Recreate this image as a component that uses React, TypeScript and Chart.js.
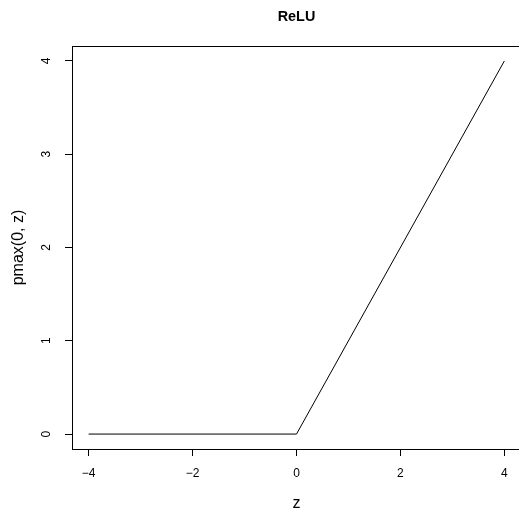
import React, { useEffect, useRef } from "react";
import { Chart, registerables } from "chart.js";

Chart.register(...registerables);

// ReLU curve: pmax(0, z) over z in [-4, 4]
const zValues = [-4, 0, 4];
const reluValues = [0, 0, 4];

const xTickValues = [-4, -2, 0, 2, 4];
const yTickValues = [0, 1, 2, 3, 4];

const titleText = "ReLU";
const xLabel = "z";
const yLabel = "pmax(0, z)";

const FONT = '"Liberation Sans", Arial, Helvetica, sans-serif';

const CANVAS_W = 530;
const CANVAS_H = 509;

// R-style frame, tick labels and annotations drawn on top of the chart
const baseGraphics = {
  id: "baseGraphics",
  afterDraw(chart: any) {
    const { ctx, chartArea, scales } = chart;
    const { left, right, top, bottom } = chartArea;
    ctx.save();
    ctx.strokeStyle = "#000";
    ctx.lineWidth = 1;
    ctx.strokeRect(Math.round(left) + 0.5, Math.round(top) + 0.5, Math.round(right - left), Math.round(bottom - top));

    ctx.fillStyle = "#000";
    // x tick labels
    ctx.font = `12px ${FONT}`;
    ctx.textAlign = "center";
    ctx.textBaseline = "middle";
    scales.x.ticks.forEach((t: any) => {
      const px = scales.x.getPixelForValue(t.value);
      ctx.fillText(String(t.value).replace("-", "\u2212"), px, bottom + 25);
    });
    // y tick labels, parallel to the axis
    scales.y.ticks.forEach((t: any) => {
      const py = scales.y.getPixelForValue(t.value);
      ctx.save();
      ctx.translate(left - 25, py);
      ctx.rotate(-Math.PI / 2);
      ctx.fillText(String(t.value), 0, 0);
      ctx.restore();
    });
    // axis titles
    const cx = (left + right) / 2;
    const cy = (top + bottom) / 2;
    ctx.font = `16px ${FONT}`;
    ctx.textBaseline = "alphabetic";
    ctx.fillText(xLabel, cx, bottom + 59);
    ctx.save();
    ctx.translate(23, cy);
    ctx.rotate(-Math.PI / 2);
    ctx.fillText(yLabel, 0, 0);
    ctx.restore();
    // main title
    ctx.font = `bold 14.4px ${FONT}`;
    ctx.textBaseline = "middle";
    ctx.fillText(titleText, cx, 17);
    ctx.restore();
  },
};

export default function App() {
  const canvasRef = useRef<HTMLCanvasElement | null>(null);

  useEffect(() => {
    document.documentElement.style.overflow = "hidden";
    document.body.style.overflow = "hidden";
    document.body.style.margin = "0";
    const canvas = canvasRef.current;
    if (!canvas) return;

    const tickGrid = {
      display: true,
      drawOnChartArea: false,
      drawTicks: true,
      tickLength: 7,
      color: "#000",
      lineWidth: 1,
    };

    const chart = new Chart(canvas, {
      type: "scatter",
      data: {
        datasets: [
          {
            data: zValues.map((z, i) => ({ x: z, y: reluValues[i] })),
            showLine: true,
            borderColor: "#000",
            borderWidth: 1,
            pointRadius: 0,
            pointHoverRadius: 0,
            fill: false,
            tension: 0,
          },
        ],
      },
      options: {
        animation: false,
        responsive: false,
        devicePixelRatio: 1,
        events: [],
        layout: { padding: { top: 46, right: CANVAS_W - 521, left: 0, bottom: 0 } },
        plugins: {
          legend: { display: false },
          tooltip: { enabled: false },
          title: { display: false },
        },
        scales: {
          x: {
            type: "linear",
            min: -4.32,
            max: 4.32,
            afterBuildTicks: (s: any) => {
              s.ticks = xTickValues.map((v) => ({ value: v }));
            },
            afterFit: (s: any) => {
              s.height = 60;
            },
            grid: tickGrid,
            border: { display: false },
            ticks: { display: false },
          },
          y: {
            type: "linear",
            min: -0.16,
            max: 4.16,
            afterBuildTicks: (s: any) => {
              s.ticks = yTickValues.map((v) => ({ value: v }));
            },
            afterFit: (s: any) => {
              s.width = 72;
            },
            grid: tickGrid,
            border: { display: false },
            ticks: { display: false },
          },
        },
      },
      plugins: [baseGraphics],
    });

    return () => chart.destroy();
  }, []);

  return (
    <div style={{ position: "fixed", left: 0, top: 0, width: CANVAS_W, height: CANVAS_H, background: "#fff" }}>
      <canvas ref={canvasRef} width={CANVAS_W} height={CANVAS_H} style={{ display: "block" }} />
    </div>
  );
}
